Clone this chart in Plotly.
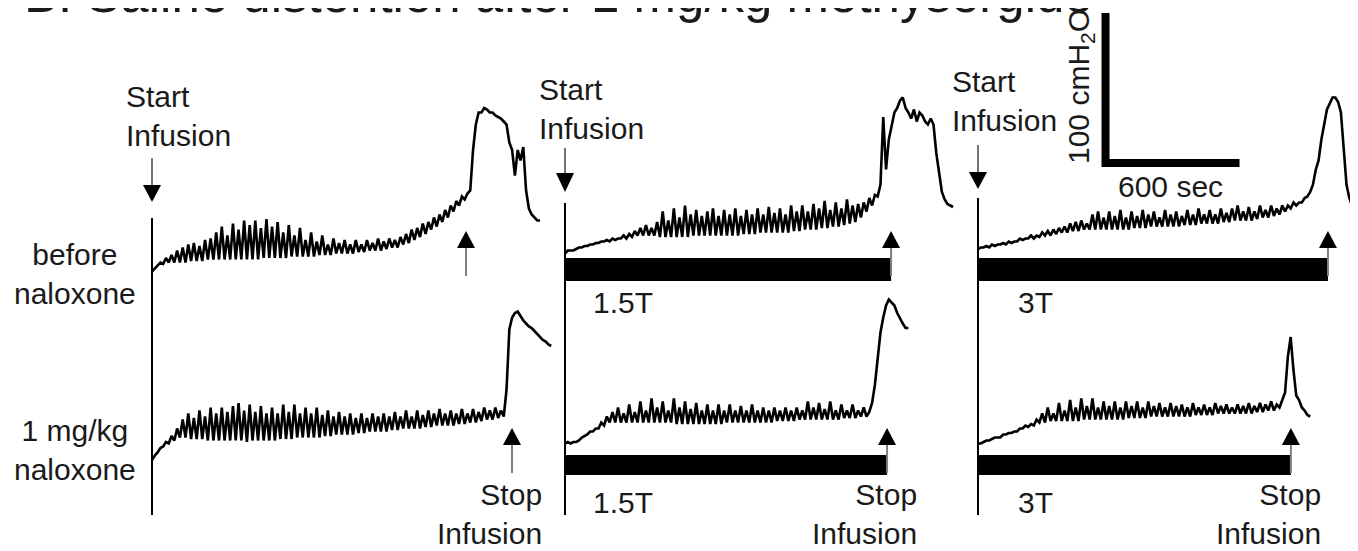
import plotly.graph_objects as go

# ---------------- data (time in s after start of infusion, pressure in cmH2O) ----------------
SAMPLE_DT = 25  # s between successive trough samples; each peak sample sits half-way

# row 1 : before naloxone   (columns: no stimulation, 1.5T, 3T)
before_ctrl_lo = [19,23,24,25,25,25,25,26,26,26, 27,27,27,27,27,27,27,27,27,27,
                  28,28,28,28,28,29,29,29,29,29, 30,30,30,31,31,31,31,32,32,33,
                  33,33,34,35,35,37,38,40,42,44, 47,49,52,55,59,63,67,73,117,125,
                  127,125,122,119,105,83,93,73,57,53]
before_ctrl_hi = [21,25,28,30,33,35,37,38,36,40, 41,45,49,43,51,47,53,50,53,48,
                  54,49,52,45,50,43,48,40,45,39, 43,37,41,38,40,37,40,37,40,38,
                  41,39,41,40,42,44,47,48,51,52, 55,57,60,63,66,69,71,100,125,128,
                  125,123,121,117,100,100,102,61,55,53]
before_15T_lo = [31,33,34,35,36,37,38,39,39,40, 41,41,42,43,43,43,43,42,42,42,
                 42,42,42,43,43,43,43,43,43,43, 43,43,44,44,44,45,45,45,45,45,
                 45,46,46,47,47,47,48,48,49,49, 50,51,52,55,59,63,69,122,107,125,
                 133,128,121,119,123,117,117,83,67,63]
before_15T_hi = [33,33,35,36,37,38,39,40,41,41, 43,44,46,48,50,48,52,59,53,61,
                 55,63,57,60,56,59,61,56,60,57, 61,56,60,57,61,57,62,58,61,57,
                 63,59,63,59,64,61,66,60,65,61, 67,63,64,65,68,70,77,87,117,128,
                 135,125,127,125,119,121,98,72,64,62]
before_3T_lo = [34,35,35,36,37,37,38,39,40,41, 41,42,43,43,44,45,45,46,46,47,
                47,47,47,47,47,47,47,47,48,48, 48,49,49,49,49,49,49,50,50,50,
                51,51,51,51,52,52,53,53,53,53, 54,55,55,56,57,59,61,63,65,69,
                77,93,117,131,135,125,77,63]
before_3T_hi = [35,36,37,37,38,39,39,41,41,43, 43,45,46,47,48,49,51,52,53,51,
                57,59,55,59,56,60,55,59,56,60, 57,59,55,60,57,59,56,60,57,61,
                57,60,57,61,58,61,63,59,62,59, 63,60,63,61,63,63,65,65,68,72,
                87,107,127,135,132,100,68,62]

# row 2 : 1 mg/kg naloxone
nalox_ctrl_lo = [20,25,29,31,33,35,35,34,34,34, 33,33,33,33,33,33,33,32,33,33,
                 33,33,33,34,34,34,35,35,35,35, 35,36,36,37,37,37,37,38,38,39,
                 39,39,39,40,40,41,41,41,41,42, 42,43,43,43,43,44,44,45,45,46,
                 47,47,48,49,107,118,116,111,108,104, 100,97]
nalox_ctrl_hi = [23,28,32,36,41,47,51,48,53,49, 55,51,55,52,56,58,53,57,52,56,
                 51,55,51,57,52,57,51,55,51,55, 50,53,49,52,49,51,48,51,48,51,
                 49,51,49,52,49,53,49,53,50,53, 51,54,51,53,51,54,51,54,52,55,
                 53,55,53,67,115,119,113,109,106,102, 99,96]
nalox_15T_lo = [31,31,32,35,37,39,41,43,45,45, 45,45,45,45,45,45,45,45,45,45,
                44,44,44,44,44,44,44,44,44,45, 45,45,45,45,45,45,45,45,46,46,
                46,46,47,47,47,47,47,47,47,47, 48,48,48,49,49,58,90,115,127,123,
                114,108]
nalox_15T_hi = [32,32,33,36,39,41,45,49,52,55, 51,57,52,59,53,61,55,59,53,61,
                55,59,54,58,53,57,53,57,53,57, 53,56,53,57,53,55,53,55,53,55,
                53,55,53,59,55,58,54,59,53,57, 53,57,53,55,52,70,105,123,125,118,
                111,108]
nalox_3T_lo = [31,32,33,35,35,37,38,39,41,42, 43,45,45,46,46,46,46,46,46,47,
               47,47,47,47,47,47,47,48,48,48, 48,49,49,49,49,49,49,49,49,50,
               50,50,50,51,51,51,51,51,51,51, 52,52,53,53,55,65,102,63,55,50]
nalox_3T_hi = [31,33,34,35,37,38,39,41,43,44, 47,51,55,51,58,53,60,55,61,56,
               61,55,59,56,59,55,59,56,59,55, 59,56,58,55,58,56,57,55,58,55,
               57,55,58,56,57,55,57,56,58,56, 58,57,59,57,60,89,80,60,53,49]

stop_before = [1406, 1460, 1567]   # s, stop of infusion
stop_nalox = [1612, 1442, 1401]
stim_labels = [None, "1.5T", "3T"]
row_labels = ["before<br>naloxone", "1 mg/kg<br>naloxone"]
SCALE_SEC, SCALE_CM = 600, 100
title_text = "B. Saline distention after 1 mg/kg methysergide"

# ---------------- layout constants (screen pixels) ----------------
SW, SH = 1358, 551          # browser window
OFF = 8                     # default page margin around the plot div
FW, FH = SW - OFF, SH - OFF  # figure size
PX_PER_SEC = 134 / 600
PX_PER_CM = 1.5
col_origin = [152, 565, 978]
col_span = [(140, 560), (550, 970), (962, 1358)]
row_zero = [300, 490]
row_span = [(8, 320), (250, 530)]
FONT = "Liberation Sans, Arial, sans-serif"
TXT = "#1a1a1a"


def px(p):
    return (p - OFF) / FW


def py(p):
    return 1 - (p - OFF) / FH


def xn(c):
    return "x" if c == 0 else f"x{c + 1}"


def yn(r):
    return "y" if r == 0 else "y2"


fig = go.Figure()

rows = [
    [(before_ctrl_lo, before_ctrl_hi), (before_15T_lo, before_15T_hi), (before_3T_lo, before_3T_hi)],
    [(nalox_ctrl_lo, nalox_ctrl_hi), (nalox_15T_lo, nalox_15T_hi), (nalox_3T_lo, nalox_3T_hi)],
]
stops = [stop_before, stop_nalox]

for r, row in enumerate(rows):
    for c, (lo, hi) in enumerate(row):
        xs, ys = [], []
        for i, (a, b) in enumerate(zip(lo, hi)):
            xs += [i * SAMPLE_DT, i * SAMPLE_DT + SAMPLE_DT / 2]
            ys += [a, b]
        fig.add_trace(go.Scatter(x=xs, y=ys, mode="lines",
                                 line=dict(color="black", width=2.6),
                                 xaxis=xn(c), yaxis=yn(r),
                                 hoverinfo="skip", showlegend=False))

layout = dict(width=FW, height=FH, margin=dict(l=0, r=0, t=0, b=0),
              paper_bgcolor="white", plot_bgcolor="rgba(0,0,0,0)", showlegend=False)
for c in range(3):
    a, b = col_span[c]
    o = col_origin[c]
    key = "xaxis" if c == 0 else f"xaxis{c + 1}"
    layout[key] = dict(domain=[px(a), min(1, px(b))],
                       range=[(a - o) / PX_PER_SEC, (min(b, SW) - o) / PX_PER_SEC],
                       visible=False, anchor="y")
for r in range(2):
    top, bot = row_span[r]
    z = row_zero[r]
    key = "yaxis" if r == 0 else "yaxis2"
    layout[key] = dict(domain=[py(bot), py(top)], range=[(z - bot) / PX_PER_CM, (z - top) / PX_PER_CM],
                       visible=False, anchor="x")
fig.update_layout(**layout)

shapes = []
ann = []


def head(xref, t, base_px, apex_px, hw=9):
    return dict(type="path", xref=xref, yref="paper", xsizemode="pixel", xanchor=t,
                path=f"M{-hw},{py(base_px)} L{hw},{py(base_px)} L0,{py(apex_px)} Z",
                fillcolor="black", line=dict(width=0))


# panel start lines + start arrows + labels
line_top = [218, 203, 198]
arrow_top = [158, 148, 145]
arrow_base = [185, 173, 172]
arrow_apex = [202, 192, 189]
start_text_y = [116, 109, 101]
for c in range(3):
    shapes.append(dict(type="line", xref=xn(c), yref="paper", x0=0, x1=0,
                       y0=py(515), y1=py(line_top[c]), line=dict(color="black", width=2)))
    shapes.append(dict(type="line", xref=xn(c), yref="paper", x0=0, x1=0,
                       y0=py(arrow_top[c]), y1=py(arrow_base[c]), line=dict(color="#444", width=1.5)))
    shapes.append(head(xn(c), 0, arrow_base[c], arrow_apex[c]))
    ann.append(dict(text="Start<br>Infusion", xref=xn(c), yref="paper", x=0, xshift=-28,
                    y=py(start_text_y[c]), xanchor="left", yanchor="middle", align="left",
                    showarrow=False, font=dict(family=FONT, size=30, color=TXT)))

# infusion bars, stop arrows
bar_y = [(258, 281), (455, 475)]
stop_apex = [231, 428]
stop_base = [248, 445]
stop_line_bot = [276, 473]
stim_y = [302, 502]
stim_shift = [0, 26, 38]
for r in range(2):
    for c in range(3):
        t = stops[r][c]
        if stim_labels[c]:
            shapes.append(dict(type="rect", xref=xn(c), yref="paper", x0=0, x1=t,
                               y0=py(bar_y[r][1]), y1=py(bar_y[r][0]),
                               fillcolor="black", line=dict(width=0)))
            ann.append(dict(text=stim_labels[c], xref=xn(c), yref="paper", x=0, xshift=stim_shift[c],
                            y=py(stim_y[r]), xanchor="left", yanchor="middle", showarrow=False,
                            font=dict(family=FONT, size=30, color=TXT)))
        shapes.append(dict(type="line", xref=xn(c), yref="paper", x0=t, x1=t,
                           y0=py(stop_line_bot[r]), y1=py(stop_base[r]),
                           line=dict(color="#808080", width=2)))
        shapes.append(head(xn(c), t, stop_base[r], stop_apex[r]))
        if r == 1:
            ann.append(dict(text="Stop<br>Infusion", xref=xn(c), yref="paper", x=t, xshift=32,
                            y=py(514), xanchor="right", yanchor="middle", align="right",
                            showarrow=False, font=dict(family=FONT, size=30, color=TXT)))

# scale bar (in panel 3 / row 1 data units)
SB_T0, SB_P0 = 571, 91.3
shapes.append(dict(type="path", xref="x3", yref="y",
                   path=f"M{SB_T0 + SCALE_SEC},{SB_P0} L{SB_T0},{SB_P0} L{SB_T0},{SB_P0 + SCALE_CM}",
                   line=dict(color="black", width=8)))
ann.append(dict(text=f"{SCALE_CM} cmH<sub>2</sub>O", xref="paper", yref="paper", x=px(1081), y=py(87),
                textangle=-90, showarrow=False, xanchor="center", yanchor="middle",
                font=dict(family=FONT, size=30, color=TXT)))
ann.append(dict(text=f"{SCALE_SEC} sec", xref="paper", yref="paper", x=px(1170), y=py(186),
                showarrow=False, xanchor="center", yanchor="middle",
                font=dict(family=FONT, size=30, color=TXT)))

# row labels
row_label_y = [274, 450]
for r in range(2):
    ann.append(dict(text=row_labels[r], xref="paper", yref="paper", x=px(75), y=py(row_label_y[r]),
                    xanchor="center", yanchor="middle", align="center", showarrow=False,
                    font=dict(family=FONT, size=30, color=TXT)))

# title (cut off at top as in the source)
ann.append(dict(text=title_text, xref="paper", yref="paper", x=px(22), y=py(25),
                xanchor="left", yanchor="bottom", showarrow=False,
                font=dict(family=FONT, size=51, color=TXT)))

fig.update_layout(shapes=shapes, annotations=ann)
fig.write_html("out.html")
